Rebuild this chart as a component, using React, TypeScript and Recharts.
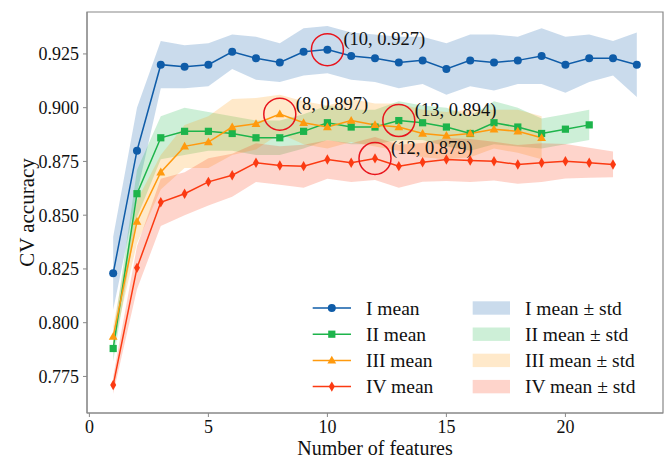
import React from 'react';
import {
  ComposedChart,
  Line,
  Area,
  XAxis,
  YAxis,
  Legend,
  ReferenceArea,
  ReferenceDot,
} from 'recharts';

// number of features on the x axis
const features = [1, 2, 3, 4, 5, 6, 7, 8, 9, 10, 11, 12, 13, 14, 15, 16, 17, 18, 19, 20, 21, 22, 23];

const meanI = [0.823, 0.880, 0.920, 0.919, 0.920, 0.926, 0.923, 0.921, 0.926, 0.927, 0.924, 0.923, 0.921, 0.922, 0.918, 0.922, 0.921, 0.922, 0.924, 0.920, 0.923, 0.923, 0.920];
const stdI = [0.017, 0.020, 0.011, 0.010, 0.010, 0.008, 0.010, 0.009, 0.011, 0.011, 0.011, 0.011, 0.012, 0.011, 0.012, 0.012, 0.013, 0.011, 0.013, 0.013, 0.011, 0.008, 0.015];

const meanII = [0.788, 0.860, 0.886, 0.889, 0.889, 0.888, 0.886, 0.886, 0.889, 0.893, 0.891, 0.891, 0.894, 0.893, 0.891, 0.888, 0.893, 0.891, 0.888, 0.890, 0.892];
const stdII = [0.006, 0.011, 0.010, 0.011, 0.009, 0.008, 0.008, 0.008, 0.008, 0.008, 0.008, 0.008, 0.009, 0.008, 0.009, 0.008, 0.010, 0.009, 0.007, 0.007, 0.007];

const meanIII = [0.7935, 0.847, 0.870, 0.882, 0.884, 0.891, 0.8925, 0.897, 0.893, 0.891, 0.894, 0.892, 0.891, 0.888, 0.887, 0.888, 0.890, 0.889, 0.886];
const stdIII = [0.005, 0.010, 0.008, 0.010, 0.012, 0.013, 0.012, 0.009, 0.010, 0.010, 0.010, 0.010, 0.011, 0.011, 0.011, 0.011, 0.009, 0.010, 0.010];

const meanIV = [0.771, 0.8255, 0.856, 0.860, 0.8655, 0.8686, 0.8744, 0.8731, 0.8728, 0.8759, 0.8744, 0.8764, 0.8728, 0.8746, 0.8759, 0.8754, 0.8751, 0.8736, 0.8744, 0.8751, 0.8744, 0.8736];
const stdIV = [0.004, 0.010, 0.011, 0.010, 0.011, 0.010, 0.009, 0.009, 0.010, 0.009, 0.009, 0.010, 0.010, 0.009, 0.010, 0.010, 0.009, 0.009, 0.009, 0.008, 0.007, 0.006];

const xTicks = [0, 5, 10, 15, 20];
const yTicks = [0.775, 0.8, 0.825, 0.85, 0.875, 0.9, 0.925];

const series = [
  { key: 'I', name: 'I mean', color: '#0f5ca8', shape: 'circle', mean: meanI, std: stdI },
  { key: 'II', name: 'II mean', color: '#1db44b', shape: 'square', mean: meanII, std: stdII },
  { key: 'III', name: 'III mean', color: '#ff9a0e', shape: 'triangle', mean: meanIII, std: stdIII },
  { key: 'IV', name: 'IV mean', color: '#fb3a12', shape: 'diamond', mean: meanIV, std: stdIV },
];

// highlighted points (x, series index, label text)
const callouts = [
  { x: 10, s: 0, text: '(10, 0.927)' },
  { x: 8, s: 2, text: '(8, 0.897)' },
  { x: 13, s: 1, text: '(13, 0.894)' },
  { x: 12, s: 3, text: '(12, 0.879)' },
];

const FONT = '"Liberation Serif", "Times New Roman", serif';
const W = 670;
const H = 458;

const rows = features.map((x, i) => {
  const row: any = { x };
  series.forEach((s) => {
    const m = s.mean[i];
    if (m != null) {
      row['m' + s.key] = m;
      row['b' + s.key] = [m - s.std[i], m + s.std[i]];
    }
  });
  return row;
});

const Marker = ({ shape, cx, cy, color }: any) => {
  if (shape === 'circle') return <circle cx={cx} cy={cy} r={4} fill={color} />;
  if (shape === 'square') return <rect x={cx - 3.6} y={cy - 3.6} width={7.2} height={7.2} fill={color} />;
  if (shape === 'triangle')
    return <polygon points={`${cx},${cy - 4.6} ${cx - 4.4},${cy + 3.2} ${cx + 4.4},${cy + 3.2}`} fill={color} />;
  return <polygon points={`${cx},${cy - 5.2} ${cx + 3},${cy} ${cx},${cy + 5.2} ${cx - 3},${cy}`} fill={color} />;
};

const LegendBox = () => {
  const rowY = (i: number) => 16 + i * 26.2;
  return (
    <svg width={370} height={110} style={{ overflow: 'visible' }}>
      {series.map((s, i) => (
        <g key={s.key}>
          <line x1={12.7} x2={51} y1={rowY(i)} y2={rowY(i)} stroke={s.color} strokeWidth={1.5} />
          <Marker shape={s.shape} cx={31.8} cy={rowY(i)} color={s.color} />
          <text x={66} y={rowY(i)} dy="0.35em" fontSize={19.5} fontFamily={FONT} fill="#111">
            {s.name}
          </text>
          <rect x={172.7} y={rowY(i) - 6.7} width={37.3} height={13.4} fill={s.color} fillOpacity={0.22} />
          <text x={225} y={rowY(i)} dy="0.35em" fontSize={19.5} fontFamily={FONT} fill="#111">
            {s.name} ± std
          </text>
        </g>
      ))}
    </svg>
  );
};

export default function App() {
  return (
    <div style={{ position: 'absolute', left: 0, top: 0, width: W, height: H, background: '#fff' }}>
      <ComposedChart width={W} height={H} data={rows} margin={{ top: 12, right: 7, bottom: 0, left: 0 }}>
        <XAxis
          dataKey="x"
          type="number"
          domain={[-0.1, 24.1]}
          ticks={xTicks}
          allowDataOverflow
          height={45}
          tickSize={4}
          tickMargin={3}
          stroke="#888"
          tick={{ fill: '#111', fontSize: 18, fontFamily: FONT }}
          label={{ value: 'Number of features', position: 'insideBottom', offset: 3, fill: '#111', fontSize: 20, fontFamily: FONT }}
        />
        <YAxis
          type="number"
          domain={[0.758, 0.9445]}
          ticks={yTicks}
          allowDataOverflow
          width={87}
          tickSize={4}
          tickMargin={4}
          stroke="#888"
          tickFormatter={(v: number) => v.toFixed(3)}
          tick={{ fill: '#111', fontSize: 18, fontFamily: FONT }}
          label={{
            value: 'CV accuracy',
            angle: -90,
            position: 'insideLeft',
            offset: 27,
            fill: '#111',
            fontSize: 21,
            fontFamily: FONT,
            style: { textAnchor: 'middle' },
          }}
        />
        <ReferenceArea x1={-0.1} x2={24.1} y1={0.758} y2={0.9445} fill="none" stroke="#888" strokeWidth={1.2} />
        {series.map((s) => (
          <Area
            key={'b' + s.key}
            type="linear"
            dataKey={'b' + s.key}
            stroke="none"
            fill={s.color}
            fillOpacity={0.22}
            isAnimationActive={false}
            activeDot={false}
          />
        ))}
        {series.map((s) => (
          <Line
            key={'m' + s.key}
            type="linear"
            dataKey={'m' + s.key}
            stroke={s.color}
            strokeWidth={1.5}
            isAnimationActive={false}
            activeDot={false}
            dot={(p: any) =>
              p.cx == null || p.cy == null || p.value == null ? (
                <g key={'e' + s.key + p.index} />
              ) : (
                <Marker key={'d' + s.key + p.index} shape={s.shape} cx={p.cx} cy={p.cy} color={s.color} />
              )
            }
          />
        ))}
        {callouts.map((c) => (
          <ReferenceDot
            key={c.text}
            x={c.x}
            y={series[c.s].mean[c.x - 1]}
            r={16}
            shape={(p: any) => (
              <g>
                <circle cx={p.cx} cy={p.cy} r={16} fill="none" stroke="#e8141c" strokeWidth={1.5} />
                <text x={p.cx + 16} y={p.cy - 11} dy="0.35em" fontSize={18.5} fontFamily={FONT} fill="#111">
                  {c.text}
                </text>
              </g>
            )}
          />
        ))}
        <Legend
          layout="vertical"
          align="center"
          verticalAlign="middle"
          wrapperStyle={{ left: 300, top: 292, width: 370, height: 110 }}
          content={() => <LegendBox />}
        />
      </ComposedChart>
    </div>
  );
}
